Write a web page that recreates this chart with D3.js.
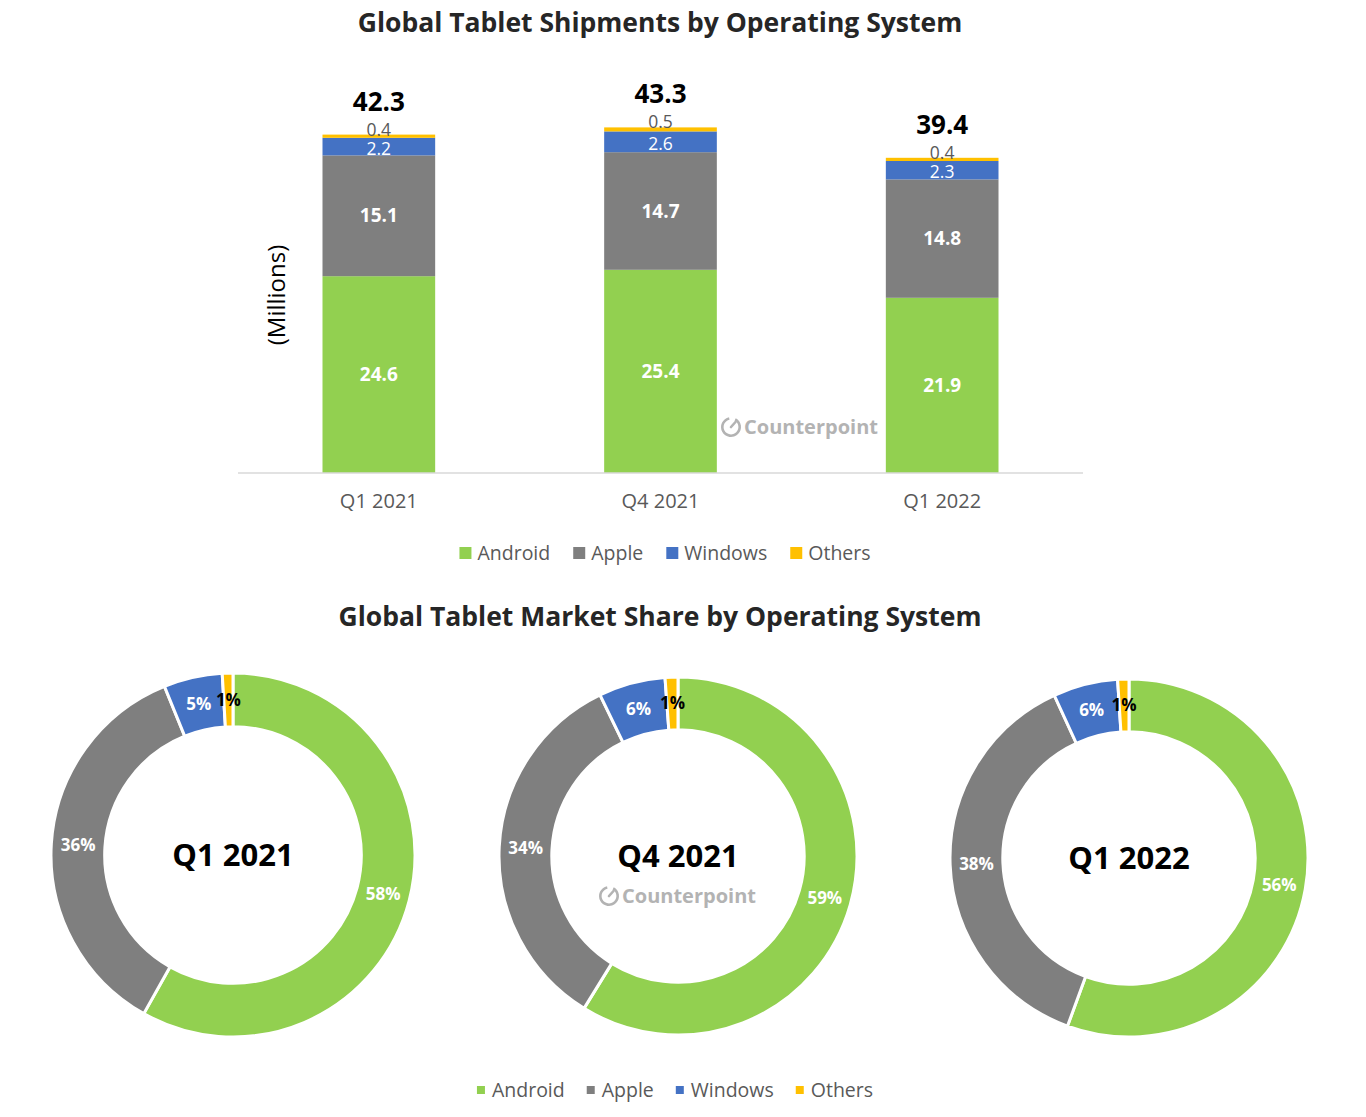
<!DOCTYPE html>
<html>
<head>
<meta charset="utf-8">
<script src="https://cdn.jsdelivr.net/npm/d3@7"></script>
<style>
  html, body { margin: 0; padding: 0; background: #fff; }
  svg { display: block; font-family: "Open Sans", "Noto Sans", sans-serif; }
</style>
</head>
<body>
<svg id="chart" width="1366" height="1117"></svg>
<script>
// ---- Data ----
const quarters = ["Q1 2021", "Q4 2021", "Q1 2022"];
const systems = ["Android", "Apple", "Windows", "Others"];
const android = [24.6, 25.4, 21.9];
const apple = [15.1, 14.7, 14.8];
const windows = [2.2, 2.6, 2.3];
const others = [0.4, 0.5, 0.4];
const totals = [42.3, 43.3, 39.4];
const colors = ["#92D050", "#7F7F7F", "#4472C4", "#FFC000"];
const barTitle = "Global Tablet Shipments by Operating System";
const donutTitle = "Global Tablet Market Share by Operating System";
const yLabel = "(Millions)";

const seriesValues = [android, apple, windows, others];
const rows = quarters.map((q, i) => {
  const r = { quarter: q, total: totals[i] };
  systems.forEach((s, k) => r[s] = seriesValues[k][i]);
  return r;
});

const svg = d3.select("#chart");

// ---- Bar chart ----
svg.append("text").attr("x", 660).attr("y", 32).attr("text-anchor", "middle")
  .attr("font-size", 26.5).attr("font-weight", 700).attr("fill", "#262626").text(barTitle);

const plot = { left: 238, right: 1083, top: 73, bottom: 473 };
const x = d3.scaleBand().domain(quarters).range([plot.left, plot.right]).paddingInner(0.6).paddingOuter(0.3);
const y = d3.scaleLinear().domain([0, 50]).range([plot.bottom, plot.top]);
const color = d3.scaleOrdinal().domain(systems).range(colors);

const stacked = d3.stack().keys(systems)(rows);

const layers = svg.append("g").selectAll("g").data(stacked).join("g")
  .attr("fill", d => color(d.key));
layers.selectAll("rect").data(d => d).join("rect")
  .attr("x", d => x(d.data.quarter))
  .attr("width", x.bandwidth())
  .attr("y", d => y(d[1]))
  .attr("height", d => y(d[0]) - y(d[1]));

// segment labels
const segLabels = svg.append("g").attr("text-anchor", "middle");
stacked.forEach(layer => {
  layer.forEach(d => {
    const v = d.data[layer.key];
    const cx = x(d.data.quarter) + x.bandwidth() / 2;
    if (layer.key === "Android" || layer.key === "Apple") {
      segLabels.append("text").attr("x", cx).attr("y", (y(d[0]) + y(d[1])) / 2)
        .attr("dy", "0.35em").attr("font-size", 19).attr("font-weight", 700)
        .attr("fill", "#fff").text(d3.format(".1f")(v));
    } else if (layer.key === "Windows") {
      segLabels.append("text").attr("x", cx).attr("y", (y(d[0]) + y(d[1])) / 2 + 2)
        .attr("dy", "0.35em").attr("font-size", 17.5)
        .attr("fill", "#fff").text(d3.format(".1f")(v));
    } else {
      segLabels.append("text").attr("x", cx).attr("y", y(d[1]) + 1)
        .attr("font-size", 17.5).attr("fill", "#595959").text(d3.format(".1f")(v));
    }
  });
});

// totals
svg.append("g").attr("text-anchor", "middle").selectAll("text").data(rows).join("text")
  .attr("x", d => x(d.quarter) + x.bandwidth() / 2)
  .attr("y", d => y(d.total) - 24)
  .attr("font-size", 26).attr("font-weight", 700).attr("fill", "#000")
  .text(d => d3.format(".1f")(d.total));

// x axis
const xAxis = svg.append("g").attr("transform", `translate(0,${plot.bottom})`)
  .call(d3.axisBottom(x).tickSize(0).tickPadding(21).tickSizeOuter(0));
xAxis.select(".domain").attr("stroke", "#d9d9d9").attr("stroke-width", 1.5)
  .attr("d", `M${plot.left},0H${plot.right}`);
xAxis.selectAll("text").attr("font-size", 20).attr("fill", "#595959")
  .attr("font-family", "'Open Sans', sans-serif");

// y label
svg.append("text").attr("transform", "translate(285,295) rotate(-90)")
  .attr("text-anchor", "middle").attr("font-size", 24).attr("fill", "#000").text(yLabel);

// watermark
function watermark(g, cx, cy, size) {
  const w = g.append("g").attr("transform", `translate(${cx},${cy})`);
  const r = size * 0.5;
  const iconX = -size * 3.75;
  w.append("path").attr("transform", `translate(${iconX},0)`)
    .attr("d", d3.arc().innerRadius(r - 2.6).outerRadius(r).startAngle(0.5).endAngle(2 * Math.PI - 0.2)())
    .attr("fill", "#b3b3b3");
  w.append("line").attr("x1", iconX).attr("y1", 0).attr("x2", iconX + r * 0.45).attr("y2", -r * 0.5)
    .attr("stroke", "#b3b3b3").attr("stroke-width", 2.6).attr("stroke-linecap", "round");
  w.append("text").attr("x", iconX + r + 3).attr("dy", "0.35em")
    .attr("font-size", size).attr("font-weight", 700).attr("fill", "#b3b3b3").text("Counterpoint");
}
watermark(svg, 806, 427, 20);

// legend helper
function legend(cx, cy, sq, fs, textGap, itemGap) {
  const g = svg.append("g");
  let xpos = 0;
  systems.forEach((s, i) => {
    const it = g.append("g").attr("transform", `translate(${xpos},0)`);
    it.append("rect").attr("x", 0).attr("y", -sq / 2).attr("width", sq).attr("height", sq).attr("fill", colors[i]);
    const t = it.append("text").attr("x", sq + textGap).attr("dy", "0.35em").attr("font-size", fs)
      .attr("fill", "#595959").text(s);
    const w = t.node().getComputedTextLength();
    xpos += sq + textGap + w + itemGap;
  });
  const total = xpos - itemGap;
  g.attr("transform", `translate(${cx - total / 2},${cy})`);
}
legend(665, 553, 12, 19.5, 6, 23);

// ---- Donuts ----
svg.append("text").attr("x", 660).attr("y", 626).attr("text-anchor", "middle")
  .attr("font-size", 26.5).attr("font-weight", 700).attr("fill", "#262626").text(donutTitle);

const donutCenters = [[233, 855], [678, 856], [1129, 858]];
const donutRadius = [182, 179, 179];
const pie = d3.pie().sort(null).value(d => d.value);
const pct = d3.format(".0%");

quarters.forEach((q, i) => {
  const [cx, cy] = donutCenters[i];
  const R = donutRadius[i];
  const rIn = R * 0.705;
  const vals = systems.map((s, k) => ({ key: s, value: seriesValues[k][i] }));
  const sum = d3.sum(vals, d => d.value);
  const arcs = pie(vals);
  const arc = d3.arc().innerRadius(rIn).outerRadius(R);
  const labelArc = d3.arc().innerRadius((R + rIn) / 2).outerRadius((R + rIn) / 2);
  const g = svg.append("g").attr("transform", `translate(${cx},${cy})`);
  g.selectAll("path").data(arcs).join("path")
    .attr("d", arc).attr("fill", d => color(d.data.key))
    .attr("stroke", "#fff").attr("stroke-width", 3);
  g.selectAll("text.pct").data(arcs).join("text").attr("class", "pct")
    .attr("transform", d => `translate(${labelArc.centroid(d)})`)
    .attr("text-anchor", "middle").attr("dy", "0.35em")
    .attr("font-size", 17).attr("font-weight", 700)
    .attr("fill", d => d.data.key === "Others" ? "#000" : "#fff")
    .text(d => pct(d.data.value / sum));
  g.append("text").attr("text-anchor", "middle").attr("dy", "0.35em")
    .attr("font-size", 31).attr("font-weight", 700).attr("fill", "#000").text(q);
});
watermark(svg, 684, 896, 20);
legend(675, 1090, 8, 19.5, 7, 22);
</script>
</body>
</html>
